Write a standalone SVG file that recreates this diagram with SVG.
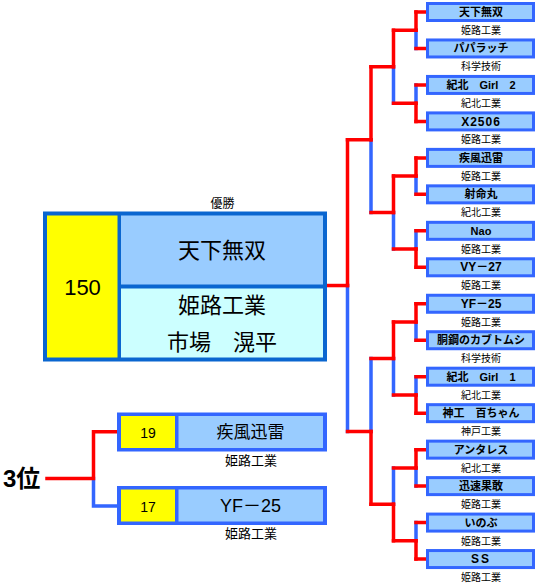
<svg xmlns="http://www.w3.org/2000/svg" width="540" height="584" viewBox="0 0 540 584">
<style>
text{font-family:"Liberation Sans","Noto Sans CJK JP",sans-serif;fill:#000;text-anchor:middle}
.bn{font-size:11px;font-weight:bold}
.bl{font-size:12px;font-weight:bold}
.lb{font-size:10px}
.big{font-size:22px}
.box{fill:#99ccff;stroke:#3366ff;stroke-width:3}
.r{stroke:#ff0000;stroke-width:3.5;fill:none;stroke-linecap:square}
.b{stroke:#3366ff;stroke-width:3.5;fill:none;stroke-linecap:square}
</style>
<rect width="540" height="584" fill="#fff"/>
<g id="connectors">
<path class="b" d="M416 30.24V48.47 M416 84.94V103.18 M416 176.12V194.35 M416 230.82V249.06 M416 322V340.23 M416 376.7V394.94 M416 467.88V486.11 M416 522.58V540.82"/>
<path class="b" d="M393.5 66.71V103.18 M393.5 212.59V249.06 M393.5 358.47V394.94 M393.5 467.88V504.35"/>
<path class="b" d="M371 139.65V212.59 M371 358.47V431.41"/>
<path class="b" d="M347.5 285.53V431.41"/>
<path class="b" d="M93.5 478.5V506 M93.5 506H118"/>
<path class="r" d="M416 12V30.24 M416 103.18V121.41 M416 157.88V176.12 M416 249.06V267.29 M416 303.76V322 M416 394.94V413.17 M416 449.64V467.88 M416 540.82V559.05"/>
<path class="r" d="M393.5 30.24V66.71 M393.5 176.12V212.59 M393.5 322V358.47 M393.5 504.35V540.82"/>
<path class="r" d="M371 66.71V139.65 M371 431.41V504.35"/>
<path class="r" d="M347.5 139.65V285.53"/>
<path class="r" d="M416 12H426 M416 48.47H426 M416 84.94H426 M416 121.41H426 M416 157.88H426 M416 194.35H426 M416 230.82H426 M416 267.29H426 M416 303.76H426 M416 340.23H426 M416 376.7H426 M416 413.17H426 M416 449.64H426 M416 486.11H426 M416 522.58H426 M416 559.05H426"/>
<path class="r" d="M393.5 30.24H416 M393.5 103.18H416 M393.5 176.12H416 M393.5 249.06H416 M393.5 322H416 M393.5 394.94H416 M393.5 467.88H416 M393.5 540.82H416"/>
<path class="r" d="M371 66.71H393.5 M371 212.59H393.5 M371 358.47H393.5 M371 504.35H393.5"/>
<path class="r" d="M347.5 139.65H371 M347.5 431.41H371"/>
<path class="r" d="M327 285.53H347.5"/>
<path class="r" d="M47 478.5H93.5 M93.5 431.7V478.5 M93.5 431.7H118"/>
</g>
<g id="champion">
<text x="222.5" y="208" style="font-size:12px">優勝</text>
<rect x="43" y="211.5" width="284" height="150" fill="#0a66d0"/>
<rect x="47" y="215.5" width="70.5" height="142" fill="#ffff00"/>
<rect x="121" y="215.5" width="202" height="69" fill="#99ccff"/>
<rect x="121" y="288.5" width="202" height="69" fill="#ccffff"/>
<text x="82.5" y="294.5" style="font-size:22px">150</text>
<text class="big" x="222" y="258">天下無双</text>
<text class="big" x="222" y="313">姫路工業</text>
<text class="big" x="222" y="349.5">市場　滉平</text>
</g>
<g id="third">
<text x="3" y="487" style="font-size:24px;font-weight:bold;text-anchor:start">3位</text>
</g>
<g id="third-1">
<rect x="117" y="412.5" width="210" height="39" fill="#3366ff"/>
<rect x="121" y="416" width="54" height="32" fill="#ffff00"/>
<rect x="178.5" y="416" width="144.5" height="32" fill="#99ccff"/>
<text x="148" y="437.5" style="font-size:14px">19</text>
<text x="250.5" y="438" style="font-size:17px">疾風迅雷</text>
<text x="251" y="464.5" style="font-size:13px">姫路工業</text>
</g>
<g id="third-2">
<rect x="117" y="486" width="210" height="39" fill="#3366ff"/>
<rect x="121" y="489.5" width="54" height="32" fill="#ffff00"/>
<rect x="178.5" y="489.5" width="144.5" height="32" fill="#99ccff"/>
<text x="148" y="511.5" style="font-size:14px">17</text>
<text x="250.5" y="512" style="font-size:18px">YF－25</text>
<text x="251" y="538" style="font-size:13px">姫路工業</text>
</g>
<g id="t0"><rect class="box" x="427.5" y="3.5" width="106" height="17"/><text class="bn" x="481" y="16">天下無双</text><text class="lb" x="481" y="34">姫路工業</text></g>
<g id="t1"><rect class="box" x="427.5" y="39.97" width="106" height="17"/><text class="bn" x="481" y="52.47">パパラッチ</text><text class="lb" x="481" y="70.47">科学技術</text></g>
<g id="t2"><rect class="box" x="427.5" y="76.44" width="106" height="17"/><text class="bn" x="481" y="88.94">紀北　Girl　2</text><text class="lb" x="481" y="106.94">紀北工業</text></g>
<g id="t3"><rect class="box" x="427.5" y="112.91" width="106" height="17"/><text class="bl" x="481" y="125.61" style="letter-spacing:1px">X2506</text><text class="lb" x="481" y="143.41">姫路工業</text></g>
<g id="t4"><rect class="box" x="427.5" y="149.38" width="106" height="17"/><text class="bn" x="481" y="161.88">疾風迅雷</text><text class="lb" x="481" y="179.88">姫路工業</text></g>
<g id="t5"><rect class="box" x="427.5" y="185.85" width="106" height="17"/><text class="bn" x="481" y="198.35">射命丸</text><text class="lb" x="481" y="216.35">紀北工業</text></g>
<g id="t6"><rect class="box" x="427.5" y="222.32" width="106" height="17"/><text class="bn" x="481" y="234.82">Nao</text><text class="lb" x="481" y="252.82">姫路工業</text></g>
<g id="t7"><rect class="box" x="427.5" y="258.79" width="106" height="17"/><text class="bl" x="481" y="271.49">VY－27</text><text class="lb" x="481" y="289.29">姫路工業</text></g>
<g id="t8"><rect class="box" x="427.5" y="295.26" width="106" height="17"/><text class="bl" x="481" y="307.96">YF－25</text><text class="lb" x="481" y="325.76">姫路工業</text></g>
<g id="t9"><rect class="box" x="427.5" y="331.73" width="106" height="17"/><text class="bn" x="481" y="344.23">胴鋼のカブトムシ</text><text class="lb" x="481" y="362.23">科学技術</text></g>
<g id="t10"><rect class="box" x="427.5" y="368.2" width="106" height="17"/><text class="bn" x="481" y="380.7">紀北　Girl　1</text><text class="lb" x="481" y="398.7">紀北工業</text></g>
<g id="t11"><rect class="box" x="427.5" y="404.67" width="106" height="17"/><text class="bn" x="481" y="417.17">神工　百ちゃん</text><text class="lb" x="481" y="435.17">神戸工業</text></g>
<g id="t12"><rect class="box" x="427.5" y="441.14" width="106" height="17"/><text class="bn" x="481" y="453.64">アンタレス</text><text class="lb" x="481" y="471.64">紀北工業</text></g>
<g id="t13"><rect class="box" x="427.5" y="477.61" width="106" height="17"/><text class="bn" x="481" y="490.11">迅速果敢</text><text class="lb" x="481" y="508.11">姫路工業</text></g>
<g id="t14"><rect class="box" x="427.5" y="514.08" width="106" height="17"/><text class="bn" x="481" y="526.58">いのぶ</text><text class="lb" x="481" y="544.58">姫路工業</text></g>
<g id="t15"><rect class="box" x="427.5" y="550.55" width="106" height="17"/><text class="bl" x="481" y="563.25" style="letter-spacing:2px">SS</text><text class="lb" x="481" y="581.05">姫路工業</text></g>
</svg>
